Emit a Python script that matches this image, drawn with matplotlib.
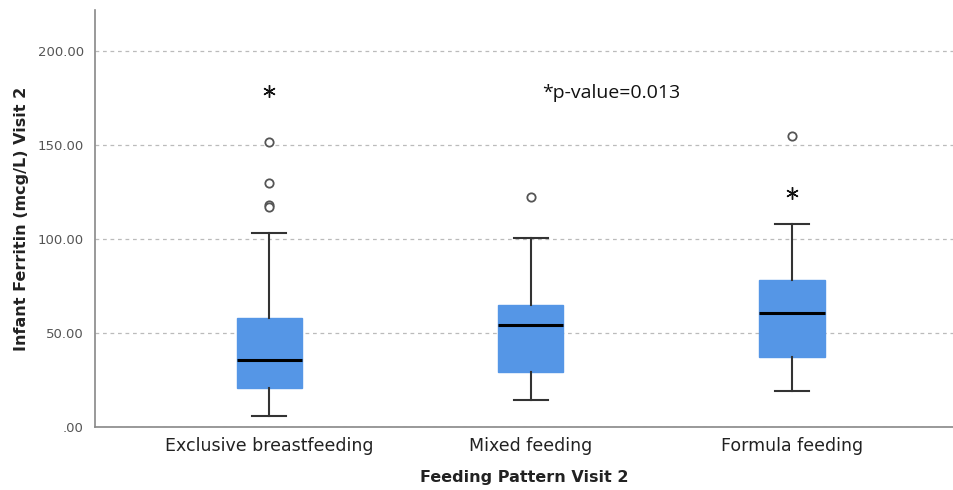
import matplotlib
matplotlib.use("Agg")
import matplotlib.pyplot as plt

# groups and box statistics
groups = ["Exclusive breastfeeding", "Mixed feeding", "Formula feeding"]
q1 = [20.5, 29.1, 37.5]
median = [35.5, 54.4, 60.6]
q3 = [58.0, 65.0, 78.4]
whis_lo = [5.7, 14.4, 19.2]
whis_hi = [103.5, 100.6, 108.1]
outliers = [[151.6, 130.0, 118.4, 117.3], [122.3], [154.8]]
extremes = [[178.8], [], [124.6]]

y_ticks = [0, 50, 100, 150, 200]
y_tick_labels = [".00", "50.00", "100.00", "150.00", "200.00"]

fig = plt.figure(figsize=(9.54, 4.9), dpi=100)
ax = fig.add_axes([0.0996, 0.1286, 0.9004, 0.851])

stats = []
for i in range(len(groups)):
    stats.append(dict(med=median[i], q1=q1[i], q3=q3[i],
                      whislo=whis_lo[i], whishi=whis_hi[i], fliers=[]))

pos = [1, 2, 3]
ax.bxp(stats, positions=pos, widths=0.25, patch_artist=True,
       showfliers=False,
       boxprops=dict(facecolor="#5596e6", edgecolor="#5596e6", linewidth=1),
       medianprops=dict(color="black", linewidth=2.2),
       whiskerprops=dict(color="#333333", linewidth=1.5),
       capprops=dict(color="#333333", linewidth=1.5),
       capwidths=0.13)

for i, p in enumerate(pos):
    if outliers[i]:
        ax.plot([p] * len(outliers[i]), outliers[i], linestyle="none",
                marker="o", markersize=6, markerfacecolor="white",
                markeredgecolor="#555555", markeredgewidth=1.3)
    if extremes[i]:
        ax.plot([p] * len(extremes[i]), extremes[i], linestyle="none",
                marker=(6, 2, 0), markersize=9, color="#111111",
                markeredgewidth=1.0)

ax.text(2.31, 178, "*p-value=0.013", ha="center", va="center",
        fontsize=14, family="Open Sans", color="#111111")

ax.set_xlim(0.333, 3.62)
ax.set_ylim(0, 222)
ax.set_yticks(y_ticks)
ax.set_yticklabels(y_tick_labels)
ax.set_xticks(pos)
ax.set_xticklabels(groups)
ax.tick_params(axis="y", length=0, pad=8, labelsize=9.5, labelcolor="#555555")
ax.tick_params(axis="x", length=0, pad=7, labelsize=12.5, labelcolor="#222222")
ax.yaxis.grid(True, linestyle=(0, (3, 3)), color="#bbbbbb", linewidth=0.9)
ax.set_axisbelow(True)

for s in ["top", "right"]:
    ax.spines[s].set_visible(False)
for s in ["left", "bottom"]:
    ax.spines[s].set_color("#888888")
    ax.spines[s].set_linewidth(1.2)

ax.set_ylabel("Infant Ferritin (mcg/L) Visit 2", fontsize=11.5,
              fontweight="bold", color="#222222", labelpad=6)
ax.set_xlabel("Feeding Pattern Visit 2", fontsize=11.5, fontweight="bold",
              color="#222222", labelpad=11)

fig.savefig("out.png", dpi=100)
